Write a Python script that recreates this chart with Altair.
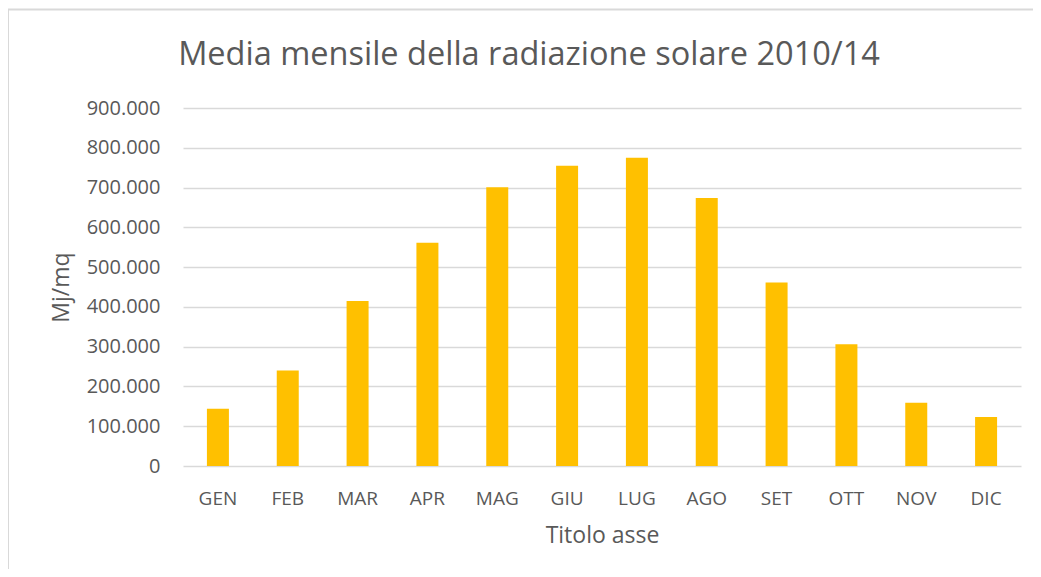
import altair as alt
import pandas as pd

months = ["GEN", "FEB", "MAR", "APR", "MAG", "GIU", "LUG", "AGO", "SET", "OTT", "NOV", "DIC"]
radiation = [144000, 240000, 415000, 561000, 701000, 755000, 775000, 674000, 461000, 306000, 159000, 123000]
y_ticks = [0, 100000, 200000, 300000, 400000, 500000, 600000, 700000, 800000, 900000]
title_text = ["Media mensile della radiazione solare 2010/14"]

df = pd.DataFrame({"mese": months, "rad": radiation})
frame_df = pd.DataFrame({"k": [0]})
title_df = pd.DataFrame({"t": title_text})

FONT = "Open Sans"
GRAY = "#595959"
LINE = "#D9D9D9"

bars = alt.Chart(df).mark_bar(size=22, color="#FFC000").encode(
    x=alt.X(
        "mese:N",
        sort=months,
        axis=alt.Axis(
            title="Titolo asse",
            labelAngle=0,
            grid=False,
            domain=False,
            ticks=False,
            tickSize=0,
            labelPadding=23,
            labelFontSize=19,
            labelColor=GRAY,
            labelFont=FONT,
            titleFont=FONT,
            titleFontSize=23,
            titleFontWeight="normal",
            titleColor=GRAY,
            titlePadding=16,
        ),
    ),
    y=alt.Y(
        "rad:Q",
        scale=alt.Scale(domain=[0, 900000], nice=False),
        axis=alt.Axis(
            values=y_ticks,
            title="Mj/mq",
            labelExpr="datum.value == 0 ? '0' : format(datum.value / 1000, 'd') + '.000'",
            grid=True,
            gridColor=LINE,
            gridWidth=1.6,
            domain=False,
            ticks=False,
            tickSize=0,
            labelPadding=23,
            labelFontSize=20,
            labelColor=GRAY,
            labelFont=FONT,
            titleFont=FONT,
            titleFontSize=23,
            titleFontWeight="normal",
            titleColor=GRAY,
            titlePadding=13,
        ),
    ),
)

left_border = alt.Chart(frame_df).mark_rule(color=LINE, strokeWidth=2).encode(
    x=alt.value(-175), y=alt.value(-98.5), y2=alt.value(480)
)
top_border = alt.Chart(frame_df).mark_rule(color=LINE, strokeWidth=2).encode(
    x=alt.value(-175), x2=alt.value(900), y=alt.value(-98.5)
)
title_mark = alt.Chart(title_df).mark_text(
    font=FONT, fontSize=32.5, color=GRAY, align="center", baseline="alphabetic"
).encode(text="t:N", x=alt.value(346), y=alt.value(-43))

chart = alt.layer(left_border, top_border, bars, title_mark).properties(
    width=838,
    height=358,
    autosize=alt.AutoSizeParams(type="none"),
    padding={"left": 175, "top": 100, "right": 12, "bottom": 103},
).configure_view(stroke=None)

chart.save("out.html", embed_options={"renderer": "svg", "actions": False})
